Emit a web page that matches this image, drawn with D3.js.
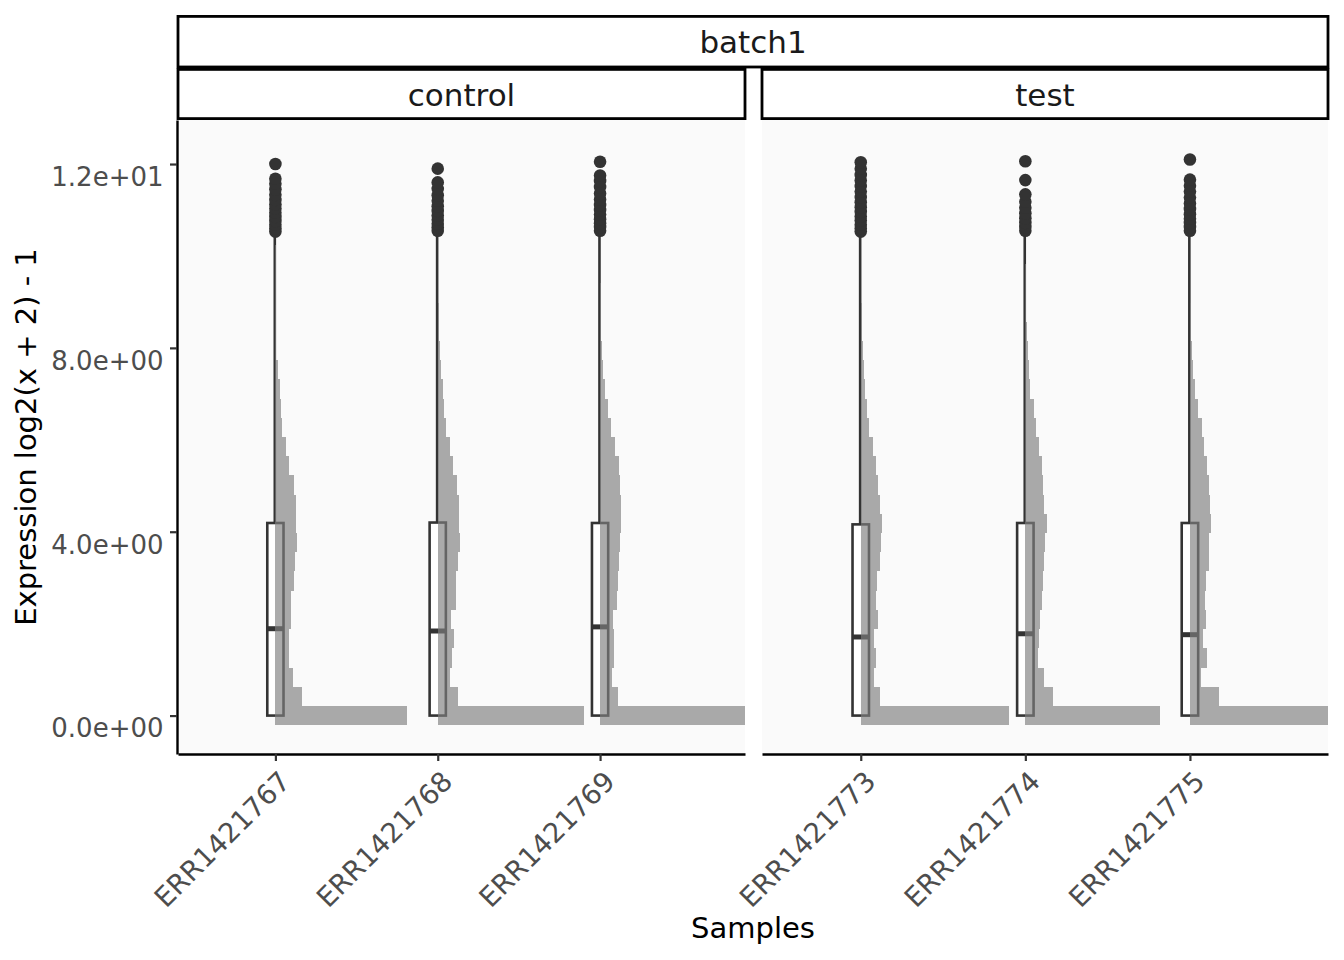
<!DOCTYPE html>
<html lang="en">
<head>
<meta charset="UTF-8">
<title>Expression per sample</title>
<script src="https://d3js.org/d3.v7.min.js"></script>
<style>
  body { margin: 0; background: #fff; }
  text { font-family: "DejaVu Sans", sans-serif; }
</style>
</head>
<body>
<div id="chart"></div>
<script>
// samples, in plotting order, with their facet
const samples = ["ERR1421767", "ERR1421768", "ERR1421769", "ERR1421773", "ERR1421774", "ERR1421775"];
const conditions = ["control", "control", "control", "test", "test", "test"];
const conditionLevels = ["control", "test"];
const batchName = "batch1";

// boxplot summaries (log2 expression)
const q1Values = [0, 0, 0, 0, 0, 0];
const medianValues = [1.89, 1.84, 1.93, 1.71, 1.78, 1.76];
const q3Values = [4.19, 4.2, 4.19, 4.16, 4.19, 4.19];
const whiskerLow = [0, 0, 0, 0, 0, 0];
const whiskerHigh = [10.45, 10.47, 10.47, 10.45, 10.47, 10.47];

// outliers above the upper whisker
const outlierValues = [
  [10.53, 10.6, 10.68, 10.76, 10.85, 10.94, 11.03, 11.12, 11.22, 11.33, 11.45, 11.57, 11.68, 12.0],
  [10.55, 10.62, 10.7, 10.79, 10.88, 10.98, 11.08, 11.2, 11.32, 11.46, 11.6, 11.9],
  [10.55, 10.63, 10.71, 10.8, 10.9, 11.0, 11.11, 11.23, 11.36, 11.5, 11.63, 11.75, 12.05],
  [10.53, 10.6, 10.68, 10.77, 10.86, 10.96, 11.06, 11.17, 11.28, 11.4, 11.52, 11.64, 11.76, 11.9, 12.04],
  [10.55, 10.63, 10.72, 10.82, 10.93, 11.05, 11.18, 11.34, 11.65, 12.06],
  [10.55, 10.63, 10.72, 10.81, 10.91, 11.02, 11.14, 11.27, 11.4, 11.53, 11.66, 12.1]
];

// histogram: 30 bins centred on 0, binWidth apart
const binWidth = 0.418;
const binCounts = [
  [9000, 1830, 1230, 910, 910, 1050, 1050, 1280, 1370, 1500, 1440, 1420, 1280, 960, 730, 460, 390, 290, 185, 70, 40, 25, 15, 10, 7, 5, 4, 3, 2, 1],
  [9980, 1370, 820, 1000, 1090, 910, 1230, 1280, 1390, 1520, 1480, 1440, 1300, 1030, 840, 550, 460, 340, 230, 160, 90, 55, 30, 18, 10, 6, 4, 3, 2, 1],
  [9920, 1230, 800, 980, 980, 890, 1180, 1230, 1300, 1370, 1440, 1420, 1370, 1280, 1030, 730, 530, 340, 230, 160, 90, 55, 30, 18, 10, 6, 4, 3, 2, 1],
  [10000, 1300, 900, 1010, 900, 1150, 1060, 1130, 1300, 1350, 1420, 1280, 1170, 1010, 830, 560, 450, 320, 220, 160, 90, 55, 30, 18, 10, 6, 4, 3, 2, 1],
  [9120, 1870, 1260, 830, 900, 970, 1130, 1220, 1260, 1350, 1490, 1280, 1200, 1130, 950, 720, 560, 340, 220, 160, 90, 55, 30, 18, 10, 6, 4, 3, 2, 1],
  [9320, 1960, 740, 1130, 900, 1060, 1010, 1080, 1300, 1280, 1420, 1350, 1280, 1170, 950, 790, 560, 340, 220, 160, 90, 55, 30, 18, 10, 6, 4, 3, 2, 1]
];

const yTicks = [0, 4, 8, 12];
const yTickLabels = ["0.0e+00", "4.0e+00", "8.0e+00", "1.2e+01"];

// ---- layout ----
const width = 1344, height = 960;
const panelTop = 120, panelBottom = 754;
const panelX = [[178, 745], [762, 1328]];
const ink = "#333333";

const svg = d3.select("#chart").append("svg")
  .attr("width", width)
  .attr("height", height);

svg.append("rect").attr("width", width).attr("height", height).attr("fill", "#fff");

// y scale from histogram range, 5% expansion
const nBins = binCounts[0].length;
const yLo = -binWidth / 2, yHi = (nBins - 0.5) * binWidth;
const yPad = (yHi - yLo) * 0.05;
const y = d3.scaleLinear().domain([yLo - yPad, yHi + yPad]).range([panelBottom, panelTop]);

// histogram length in x units (max slab = 0.9)
const maxCount = d3.max(binCounts, c => d3.max(c));
const slab = d3.scaleLinear().domain([0, maxCount]).range([0, 0.9]);

conditionLevels.forEach((cond, p) => {
  const idx = samples.map((s, i) => i).filter(i => conditions[i] === cond);
  const reach = d3.max(idx, (i, k) => k + 1 + slab(d3.max(binCounts[i])));
  const right = Math.max(idx.length + 0.6, reach);
  const x = d3.scaleLinear().domain([0.4, right]).range(panelX[p]);

  const g = svg.append("g");
  g.append("rect")
    .attr("x", panelX[p][0]).attr("y", panelTop)
    .attr("width", panelX[p][1] - panelX[p][0]).attr("height", panelBottom - panelTop)
    .attr("fill", "#fafafa");

  idx.forEach((i, k) => {
    const pos = k + 1;
    const cx = x(pos);
    const half = x(pos + 0.05) - cx;

    // whiskers
    g.append("line")
      .attr("x1", cx - 0.6).attr("x2", cx - 0.6)
      .attr("y1", y(q3Values[i])).attr("y2", y(whiskerHigh[i]))
      .attr("stroke", ink).attr("stroke-width", 2.6);
    g.append("line")
      .attr("x1", cx - 0.6).attr("x2", cx - 0.6)
      .attr("y1", y(q1Values[i])).attr("y2", y(whiskerLow[i]))
      .attr("stroke", ink).attr("stroke-width", 2.6);

    // box + median
    g.append("rect")
      .attr("x", cx - half).attr("width", 2 * half)
      .attr("y", y(q3Values[i])).attr("height", y(q1Values[i]) - y(q3Values[i]))
      .attr("fill", "#fff").attr("stroke", ink).attr("stroke-width", 2.6);
    g.append("line")
      .attr("x1", cx - half).attr("x2", cx + half)
      .attr("y1", y(medianValues[i])).attr("y2", y(medianValues[i]))
      .attr("stroke", ink).attr("stroke-width", 5);

    // histogram to the right of the box
    g.append("g")
      .selectAll("rect")
      .data(binCounts[i])
      .join("rect")
      .attr("x", cx)
      .attr("width", d => x(pos + slab(d)) - cx)
      .attr("y", (d, b) => y((b + 0.5) * binWidth))
      .attr("height", (d, b) => y((b - 0.5) * binWidth) - y((b + 0.5) * binWidth))
      .attr("fill", "#7f7f7f")
      .attr("fill-opacity", 0.66)
      .attr("shape-rendering", "crispEdges");

    // outliers
    g.append("g")
      .selectAll("circle")
      .data(outlierValues[i])
      .join("circle")
      .attr("cx", cx)
      .attr("cy", d => y(d))
      .attr("r", 6.3)
      .attr("fill", ink);
  });

  // x axis for this panel
  const xAxis = svg.append("g")
    .attr("transform", `translate(0,${panelBottom})`)
    .call(d3.axisBottom(x)
      .tickValues(idx.map((i, k) => k + 1))
      .tickFormat((d, k) => samples[idx[k]])
      .tickSize(7)
      .tickSizeOuter(0));
  xAxis.select(".domain").attr("stroke", "#000").attr("stroke-width", 2.4);
  xAxis.selectAll(".tick line").attr("stroke", ink).attr("stroke-width", 2.2);
  xAxis.selectAll(".tick text")
    .attr("x", 0).attr("y", 0).attr("dy", "0.72em")
    .attr("text-anchor", "end")
    .attr("transform", "translate(2,15) rotate(-45)")
    .attr("fill", "#4d4d4d")
    .style("font-size", "27.5px");

  // condition strip
  svg.append("rect")
    .attr("x", panelX[p][0]).attr("y", 69.4)
    .attr("width", panelX[p][1] - panelX[p][0]).attr("height", 49.2)
    .attr("fill", "#fff").attr("stroke", "#000").attr("stroke-width", 2.8);
  svg.append("text")
    .attr("x", (panelX[p][0] + panelX[p][1]) / 2).attr("y", 95)
    .attr("dy", "0.36em")
    .attr("text-anchor", "middle")
    .attr("fill", "#1a1a1a")
    .style("font-size", "31px")
    .text(cond);
});

// batch strip across both panels
svg.append("rect")
  .attr("x", panelX[0][0]).attr("y", 16.4)
  .attr("width", panelX[1][1] - panelX[0][0]).attr("height", 50.6)
  .attr("fill", "#fff").attr("stroke", "#000").attr("stroke-width", 2.8);
svg.append("text")
  .attr("x", (panelX[0][0] + panelX[1][1]) / 2).attr("y", 41.5)
  .attr("dy", "0.36em")
  .attr("text-anchor", "middle")
  .attr("fill", "#1a1a1a")
  .style("font-size", "31px")
  .text(batchName);

// y axis on the left panel only
const yAxis = svg.append("g")
  .attr("transform", `translate(${panelX[0][0] - 1},0)`)
  .call(d3.axisLeft(y)
    .tickValues(yTicks)
    .tickFormat((d, k) => yTickLabels[k])
    .tickSize(7)
    .tickSizeOuter(0));
yAxis.select(".domain").attr("stroke", "#000").attr("stroke-width", 2.4);
yAxis.selectAll(".tick line").attr("stroke", ink).attr("stroke-width", 2.2);
yAxis.selectAll(".tick text")
  .attr("x", -13.5).attr("y", 13)
  .attr("fill", "#4d4d4d")
  .style("font-size", "26px");

// axis titles
svg.append("text")
  .attr("x", (panelX[0][0] + panelX[1][1]) / 2).attr("y", 938)
  .attr("text-anchor", "middle")
  .attr("fill", "#000")
  .style("font-size", "29px")
  .text("Samples");

svg.append("text")
  .attr("transform", `translate(36,${(panelTop + panelBottom) / 2}) rotate(-90)`)
  .attr("text-anchor", "middle")
  .attr("fill", "#000")
  .style("font-size", "29px")
  .text("Expression log2(x + 2) - 1");
</script>
</body>
</html>
